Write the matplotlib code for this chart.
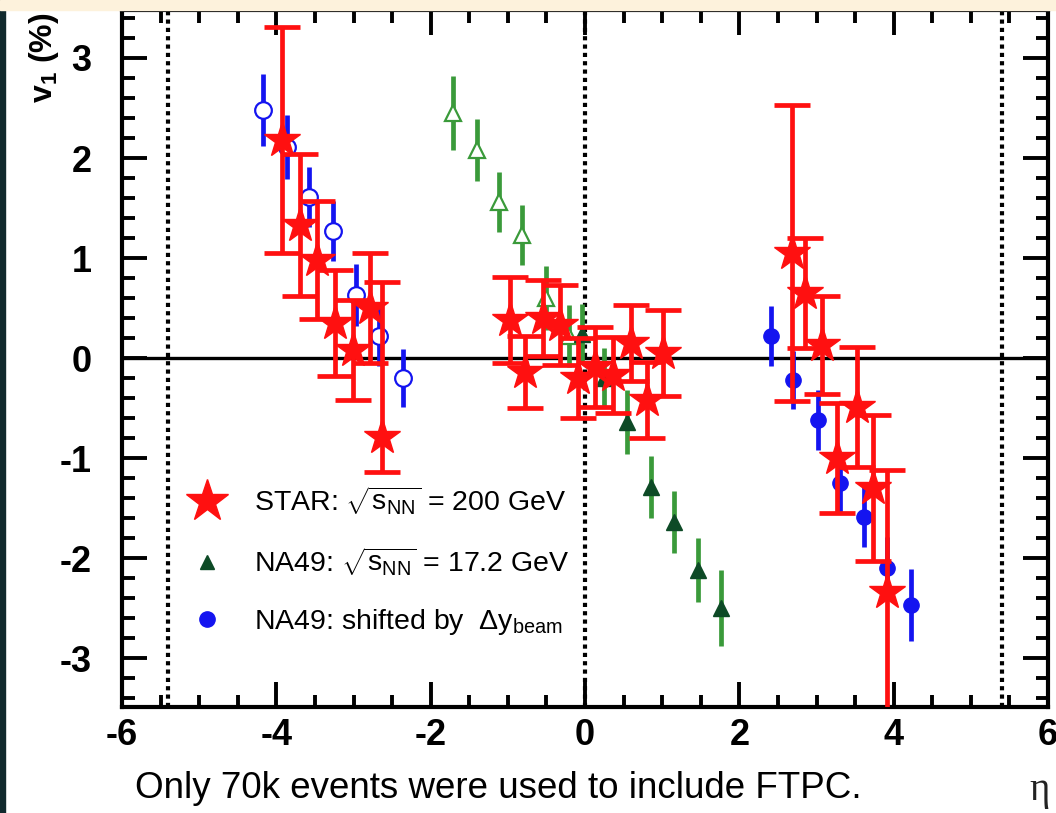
import matplotlib
matplotlib.use('Agg')
import matplotlib.pyplot as plt
from matplotlib.lines import Line2D
from matplotlib.patches import Rectangle
from matplotlib.ticker import MultipleLocator

plt.rcParams['font.family'] = ['Liberation Sans', 'DejaVu Sans']
plt.rcParams['mathtext.fontset'] = 'custom'
plt.rcParams['mathtext.rm'] = 'Liberation Sans'
plt.rcParams['mathtext.it'] = 'Liberation Sans:italic'
plt.rcParams['mathtext.bf'] = 'Liberation Sans:bold'
plt.rcParams['axes.unicode_minus'] = False

# STAR 200 GeV, v1 (%) vs eta
star_eta = [-3.93, -3.69, -3.47, -3.24, -3.01, -2.79, -2.63,
            -0.97, -0.78, -0.55, -0.33, -0.09, 0.13, 0.36, 0.60, 0.80, 1.01,
            2.68, 2.85, 3.07, 3.27, 3.52, 3.73, 3.92]
star_v1 = [2.18, 1.33, 0.98, 0.35, 0.08, 0.50, -0.79,
           0.38, -0.14, 0.40, 0.33, -0.20, -0.09, -0.17, 0.15, -0.42, 0.05,
           1.05, 0.65, 0.13, -1.00, -0.49, -1.30, -2.34]
star_err_lo = [1.13, 0.71, 0.59, 0.53, 0.50, 0.55, 0.35,
               0.43, 0.36, 0.38, 0.40, 0.40, 0.40, 0.38, 0.38, 0.38, 0.43,
               1.48, 0.55, 0.49, 0.55, 0.60, 0.73, 1.22]
star_err_hi = [1.13, 0.71, 0.59, 0.53, 0.50, 0.55, 1.55,
               0.43, 0.36, 0.38, 0.40, 0.40, 0.40, 0.38, 0.38, 0.38, 0.43,
               1.48, 0.55, 0.49, 0.55, 0.60, 0.73, 1.22]

# NA49 17.2 GeV, measured (filled) and reflected (open)
na49_eta = [-0.04, 0.25, 0.55, 0.85, 1.15, 1.46, 1.76]
na49_v1 = [0.24, -0.20, -0.64, -1.29, -1.64, -2.12, -2.50]
na49_err = [0.30, 0.30, 0.32, 0.31, 0.31, 0.32, 0.38]
na49_refl_eta = [-1.71, -1.40, -1.12, -0.81, -0.51, -0.21]
na49_refl_v1 = [2.45, 2.08, 1.56, 1.23, 0.60, 0.22]
na49_refl_err = [0.37, 0.31, 0.30, 0.30, 0.32, 0.31]

# NA49 shifted by delta y_beam, measured (filled) and reflected (open)
shift_eta = [2.41, 2.70, 3.02, 3.30, 3.61, 3.91, 4.22]
shift_v1 = [0.22, -0.22, -0.62, -1.25, -1.59, -2.10, -2.47]
shift_err = [0.30, 0.29, 0.30, 0.30, 0.30, 0.31, 0.36]
shift_refl_eta = [-4.17, -3.86, -3.58, -3.27, -2.97, -2.67, -2.36]
shift_refl_v1 = [2.48, 2.11, 1.61, 1.27, 0.63, 0.22, -0.20]
shift_refl_err = [0.36, 0.32, 0.30, 0.30, 0.31, 0.30, 0.29]

beam_rapidity = 5.4

RED = '#ff1010'
BLUE = '#1414f0'
GREEN = '#3a9a3a'
DKGREEN = '#0d4a26'

fig = plt.figure(figsize=(10.56, 8.13), dpi=100)
fig.patch.set_facecolor('white')
fig.patches.append(Rectangle((0, 0), 5 / 1056, 1, transform=fig.transFigure,
                             color='#10292d', zorder=0))
fig.patches.append(Rectangle((0, 1 - 10 / 813), 1, 10 / 813, transform=fig.transFigure,
                             color='#fdf2dc', zorder=0))

ax = fig.add_axes([122 / 1056, 1 - 707 / 813, 926 / 1056, 697 / 813])
ax.set_xlim(-6, 6)
ax.set_ylim(-3.49, 3.48)

ax.axhline(0, color='black', lw=2.4, zorder=1)
for xv in (-beam_rapidity, 0, beam_rapidity):
    ax.axvline(xv, color='black', lw=3, ls=(0, (1.0, 1.0)), zorder=1)

# NA49 at 17.2 GeV
ax.errorbar(na49_refl_eta, na49_refl_v1, yerr=na49_refl_err, fmt='^', ms=11,
            mfc='white', mec=GREEN, mew=1.6, ecolor=GREEN, elinewidth=3.4,
            capsize=0, zorder=2)
ax.errorbar(na49_eta, na49_v1, yerr=na49_err, fmt='^', ms=11,
            mfc=DKGREEN, mec=DKGREEN, ecolor=GREEN, elinewidth=3.4,
            capsize=0, zorder=2)

# NA49 shifted
ax.errorbar(shift_refl_eta, shift_refl_v1, yerr=shift_refl_err, fmt='o', ms=12,
            mfc='white', mec=BLUE, mew=1.6, ecolor=BLUE, elinewidth=3.4,
            capsize=0, zorder=3)
ax.errorbar(shift_eta, shift_v1, yerr=shift_err, fmt='o', ms=11,
            mfc=BLUE, mec=BLUE, ecolor=BLUE, elinewidth=3.4,
            capsize=0, zorder=3)

# STAR
ax.errorbar(star_eta, star_v1, yerr=[star_err_lo, star_err_hi], fmt='*', ms=27,
            mfc=RED, mec=RED, ecolor=RED, elinewidth=3.4, capsize=13,
            capthick=3.4, zorder=4)

ax.xaxis.set_major_locator(MultipleLocator(2))
ax.xaxis.set_minor_locator(MultipleLocator(0.5))
ax.yaxis.set_major_locator(MultipleLocator(1))
ax.yaxis.set_minor_locator(MultipleLocator(0.2))
ax.tick_params(which='both', direction='in', top=True, right=True, width=2.8,
               labelsize=26)
ax.tick_params(which='major', length=18)
ax.tick_params(which='minor', length=9)
ax.tick_params(axis='y', pad=22)
ax.tick_params(axis='x', pad=8)
for lab in ax.get_xticklabels() + ax.get_yticklabels():
    lab.set_fontweight('bold')
for sp in ax.spines.values():
    sp.set_linewidth(3)

handles = [
    Line2D([], [], ls='none', marker='*', ms=32, color=RED),
    Line2D([], [], ls='none', marker='^', ms=10, color=DKGREEN),
    Line2D([], [], ls='none', marker='o', ms=11, color=BLUE),
]
labels = [
    r'STAR: $\sqrt{\mathrm{s}_{\mathrm{NN}}}$ = 200 GeV',
    r'NA49: $\sqrt{\mathrm{s}_{\mathrm{NN}}}$ = 17.2 GeV',
    r'NA49: shifted by  $\Delta\mathrm{y}_{\mathrm{beam}}$',
]
ax.legend(handles, labels, loc='center left', bbox_to_anchor=(0.072, 0.21),
          frameon=False, fontsize=20.5, handlelength=1.3, handletextpad=1.0,
          labelspacing=1.0, borderpad=0, borderaxespad=0)

fig.text(44 / 1056, 1 - 12 / 813, r'v$_{\mathbf{1}}$ (%)', rotation=90, ha='center',
         va='top', fontsize=23, fontweight='bold')
fig.text(1040 / 1056, 1 - 790 / 813, 'η', family=['Liberation Serif', 'DejaVu Serif'],
         fontsize=28, ha='center', va='center', color='#222222')
fig.text(135 / 1056, 1 - 788 / 813, 'Only 70k events were used to include FTPC.',
         fontsize=26.5, ha='left', va='center')

fig.savefig('out.png', dpi=100)
